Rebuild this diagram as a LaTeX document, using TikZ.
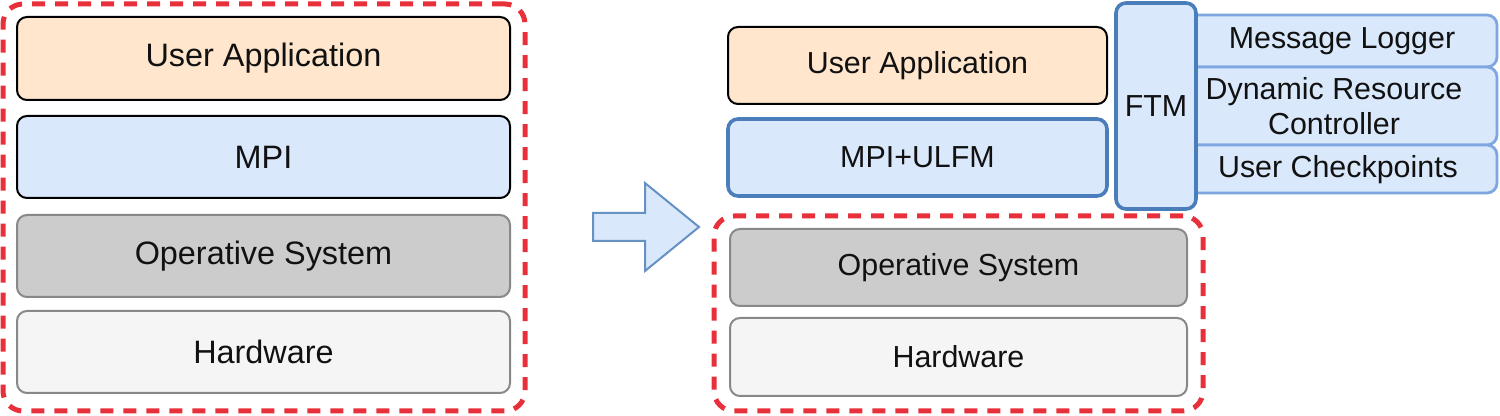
\documentclass[tikz,border=0pt]{standalone}
\usepackage{fontspec}
\setmainfont{Liberation Sans}
\definecolor{orfill}{HTML}{FFE6CC}
\definecolor{blfill}{HTML}{DAE8FC}
\definecolor{grfill}{HTML}{CCCCCC}
\definecolor{hwfill}{HTML}{F5F5F5}
\definecolor{redd}{HTML}{E8303A}
\definecolor{blstroke}{HTML}{4A7EBB}
\definecolor{sbstroke}{HTML}{7EA6E0}
\definecolor{grstroke}{HTML}{888888}
\definecolor{txtc}{HTML}{111111}
\begin{document}
\begin{tikzpicture}[x=0.5pt,y=-0.5pt,
  layer/.style={draw=#1, line width=1pt, rounded corners=5pt, text=txtc},
  bigtxt/.style={font=\fontsize{16.2}{19.5}\selectfont},
  smalltxt/.style={font=\fontsize{15.2}{17.5}\selectfont, text=txtc, align=center},
  redbox/.style={draw=redd, line width=2.5pt, dash pattern=on 6.5pt off 5pt, rounded corners=10pt},
  ftmline/.style={draw=blstroke, line width=1.8pt, fill=blfill, rounded corners=5pt},
  subbox/.style={draw=sbstroke, line width=1.4pt, fill=blfill, rounded corners=5pt},
  arrowshape/.style={draw=blstroke!85, line width=1pt, fill=blfill}
]
\useasboundingbox (0,0) rectangle (1500,416);
% ---- left stack ----
\node[redbox, minimum width=261pt, minimum height=203.5pt] (lgroup) at (264,207.5) {};
\node[layer=black, fill=orfill, bigtxt, minimum width=246.5pt, minimum height=41.5pt] (lua) at (263.5,58.5) {User Application};
\node[layer=black, fill=blfill, bigtxt, minimum width=246.5pt, minimum height=41pt] (lmpi) at (263.5,157) {MPI};
\node[layer=grstroke, fill=grfill, bigtxt, minimum width=246.5pt, minimum height=41pt] (los) at (263.5,256) {Operative System};
\node[layer=grstroke, fill=hwfill, bigtxt, minimum width=246.5pt, minimum height=41pt] (lhw) at (263.5,352) {Hardware};
% ---- arrow ----
\draw[arrowshape] (593,213) -- (645,213) -- (645,183) -- (699,227) -- (645,271) -- (645,241) -- (593,241) -- cycle;
% ---- right stack ----
\node[redbox, minimum width=244.5pt, minimum height=97.5pt] (rgroup) at (958.5,313.5) {};
\node[layer=grstroke, fill=grfill, smalltxt, minimum width=228.5pt, minimum height=38.5pt] (ros) at (958.5,267.5) {Operative System};
\node[layer=grstroke, fill=hwfill, smalltxt, minimum width=228.5pt, minimum height=39pt] (rhw) at (958.5,357) {Hardware};
\node[layer=black, fill=orfill, smalltxt, minimum width=189.5pt, minimum height=38.5pt] (rua) at (917.5,65.5) {User Application};
\node[ftmline, smalltxt, minimum width=189.5pt, minimum height=38.5pt] (rmpi) at (917.5,157.5) {MPI+ULFM};
% sub modules
\draw[subbox] (1176,15) rectangle (1497,67);
\draw[subbox] (1176,67) rectangle (1497,145);
\draw[subbox] (1176,145) rectangle (1497,193);
\node[smalltxt] (ml) at (1342,41) {Message Logger};
\node[smalltxt] (drc) at (1334,106) {Dynamic Resource\\Controller};
\node[smalltxt] (uc) at (1338,170) {User Checkpoints};
\node[ftmline, smalltxt, minimum width=40pt, minimum height=103pt] (ftm) at (1156,106) {FTM};
\end{tikzpicture}
\end{document}
